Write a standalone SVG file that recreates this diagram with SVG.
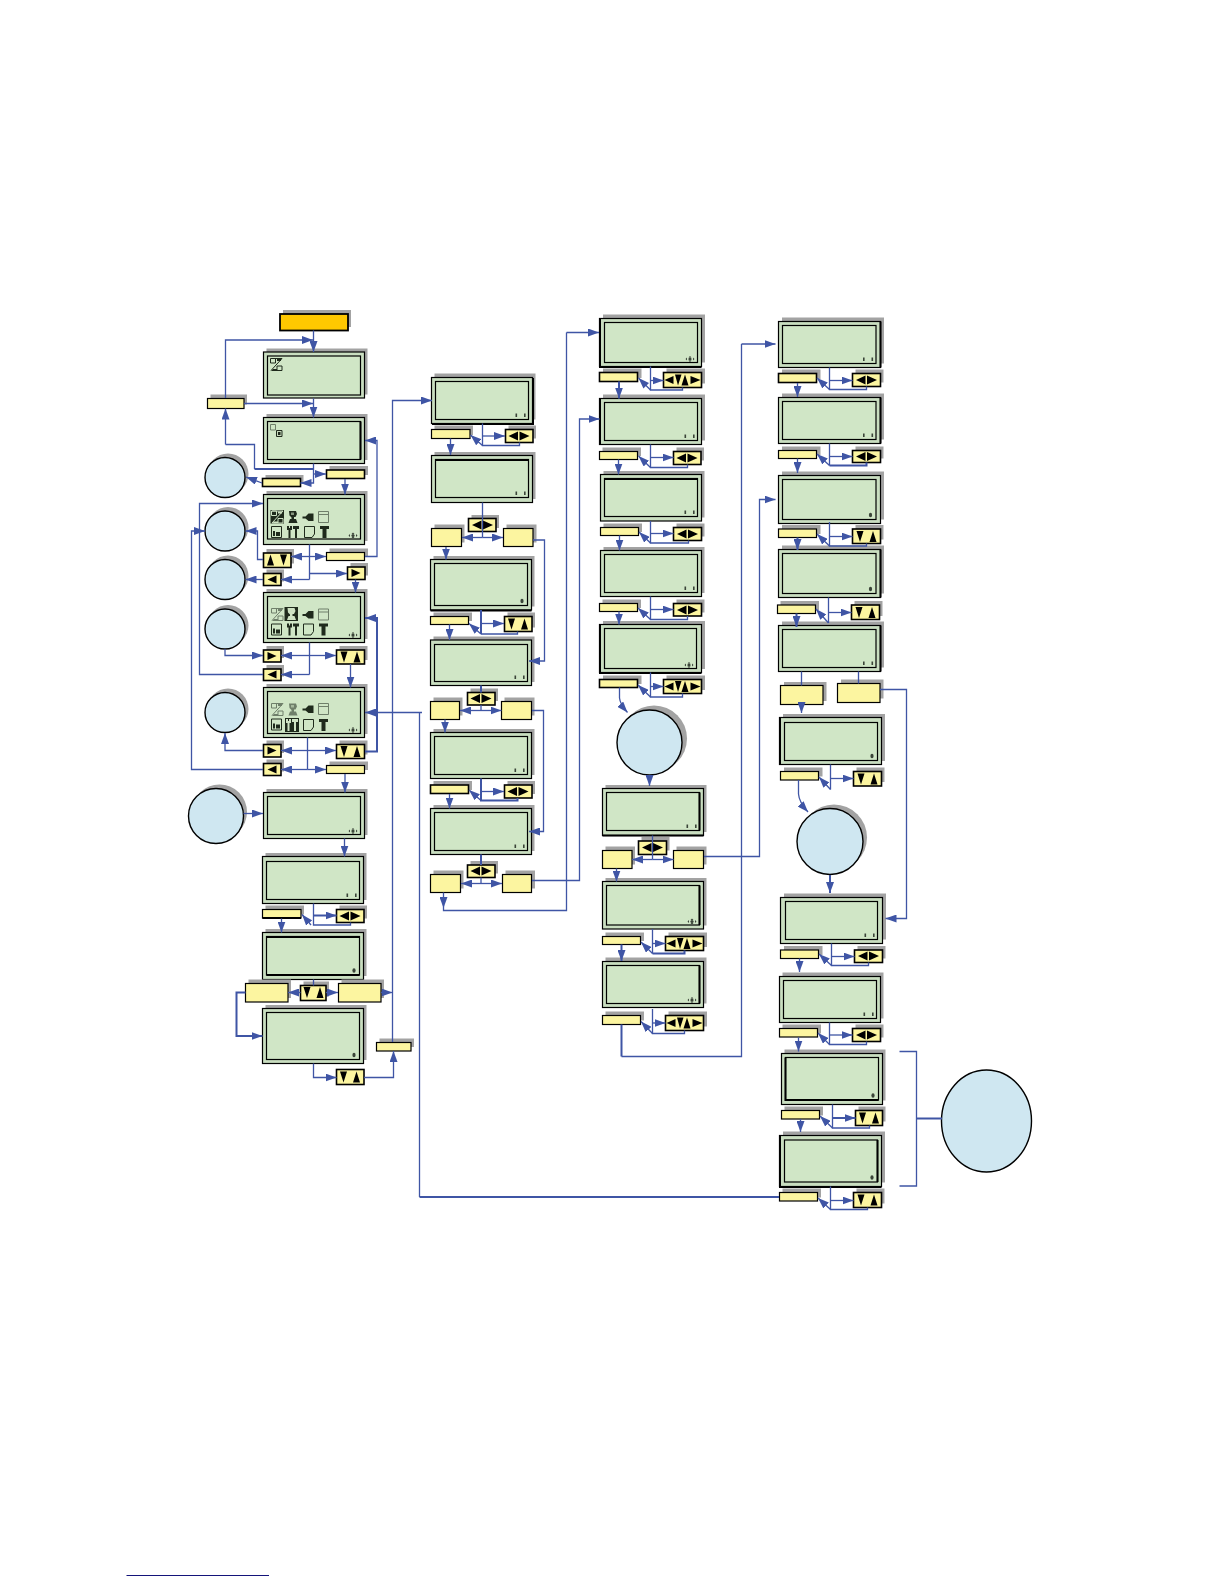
<svg xmlns="http://www.w3.org/2000/svg" width="1224" height="1584" viewBox="0 0 1224 1584">
<style>
.sh{fill:#a3a3a3}
.lcd{fill:#c9dec0;stroke:#000;stroke-width:1.2}
.scr{fill:#d0e6c6;stroke:#000;stroke-width:1.2}
.y{fill:#fcf5a0;stroke:#000;stroke-width:1.2}
.ky{fill:#fcf5a0;stroke:#000;stroke-width:1.6}
.cir{fill:#cfe7f1;stroke:#000;stroke-width:1.4}
.k{fill:none;stroke:#000;stroke-width:2}
.c{fill:none;stroke:#3f55a5;stroke-width:1.3}
.a{marker-end:url(#ah)}
.t{stroke-width:2}
.f{fill:currentColor}
.o{fill:none;stroke:currentColor;stroke-width:1}
.ic{color:#1f2a1c}
.inv{color:#cfe3c4}
.dim{color:#6f7f6a}
</style>
<defs>
<marker id="ah" viewBox="0 0 11 8" refX="11" refY="4" markerWidth="11" markerHeight="8" markerUnits="userSpaceOnUse" orient="auto"><path d="M0,0L11,4L0,8z" fill="#3f55a5"/></marker>
<g id="lr"><path d="M-10.5,0L-1,-4.5V4.5zM0.5,-4.5L10.5,0L0.5,4.5z"/></g>
<g id="ud"><path d="M-10,-5.5H-3L-6.5,5.5zM3,5.5H10L6.5,-5.5z"/></g>
<g id="du"><path d="M-10,5.5H-3L-6.5,-5.5zM3,-5.5H10L6.5,5.5z"/></g>
<g id="k4"><path d="M-18,0L-9,-4V4zM-7.5,-5.5H-1L-4.5,5.5zM-1,5.5H6L2.5,-5.5zM8,-4L18,0L8,4z"/></g>
<g id="gl"><path d="M4.5,-4V4L-4.5,0z"/></g>
<g id="gr"><path d="M-4.5,-4V4L4.5,0z"/></g>
<g id="n4" fill="#3a4438"><circle cx="-7.5" cy="-3.5" r="1.6"/><path d="M-12,-3.5L-10.5,-5V-2zM-3,-3.5L-4.5,-5V-2zM-7.5,-6.5L-9,-5H-6zM-7.5,-0.5L-9,-2H-6z"/></g>
<g id="nl" fill="#3a4438"><rect x="-13" y="-6" width="1.6" height="3.5"/><rect x="-4.5" y="-6" width="1.6" height="3.5"/></g>
<g id="nu" fill="#3a4438"><ellipse cx="-5.5" cy="-4.5" rx="1.6" ry="2.3"/></g>
<g id="i1"><path class="o" d="M.5,.5H5.5V5H.5zM7,8H12V12.5H7zM1,12.5L12,.5M1,.5H12"/><path class="f" d="M3,11H7V13H1zM7,1H11V3H7z"/></g>
<g id="i2"><path class="f" d="M2,0.5H9L10,3.500L8.500,6.500H7V8.500H9L10.500,12.500H1.500L3,8.500H4.500V7L2.500,5z"/><path fill="#c9dec0" opacity="0.6" d="M4,2H7V4.500H4z"/></g>
<g id="i3"><path class="f" d="M0,5.5H3L6,2.500H11V10H6L3,7.500H0z"/></g>
<g id="i4"><path class="o" d="M.5,.5H10.500V11.500H.5zM.5,3.500H10.500"/></g>
<g id="i5"><path class="o" d="M.5,.5H10.500V11.500H.5z"/><path class="f" d="M2,5H4V10H2zM5,6H9V10H5z"/></g>
<g id="i6"><path class="f" d="M0,0H2V2H3V0H5V4H3.500V12H1.500V4H0zM6,0H12V3H10V12H8V3H6z"/></g>
<g id="i7"><path class="o" d="M.5,.5H10.500V8L8,11.500H.5z"/></g>
<g id="i8"><path class="f" d="M0,0H9V3H6.500V12H2.500V3H0z"/></g>
</defs>

<g id="start"><rect class="sh" x="283" y="310" width="68" height="17"/><rect x="280" y="314" width="68" height="16.500" fill="#ffc800" stroke="#000" stroke-width="1.800"/></g>

<g id="lcd-1"><rect class="sh" x="266.500" y="348.500" width="101" height="46"/><rect class="lcd" x="263.500" y="352" width="101" height="46"/><rect class="scr" x="267.500" y="356" width="93" height="39"/><g class="ic" transform="translate(270,358)"><use href="#i1"/></g></g>
<g id="lcd-2"><rect class="sh" x="266.500" y="414" width="101" height="46"/><rect class="lcd" x="263.500" y="417.500" width="101" height="46"/><rect class="scr" x="267.500" y="421.500" width="93" height="38"/><path class="k" d="M360.500,421.500V459.500"/><g class="dim"><path class="o" d="M270.500,424.500H275.500V430H270.500z"/></g><path d="M276.500,430.500H282V436.500H276.500z" fill="#c6d8bb" stroke="#1f2a1c"/><rect x="278" y="432" width="2.500" height="3" fill="#1f2a1c"/></g>
<g id="lcd-3"><rect class="sh" x="266.500" y="491" width="101" height="50"/><rect class="lcd" x="263.500" y="494.500" width="101" height="50"/><rect class="scr" x="267.500" y="498.500" width="93" height="40.500"/><rect x="270.500" y="510" width="13.500" height="13.500" fill="#1f2a1c"/><g class="inv" transform="translate(271,510.500)"><use href="#i1"/></g><g class="ic" transform="translate(287,510.500)"><use href="#i2"/></g><g class="ic" transform="translate(302.500,511)"><use href="#i3"/></g><g class="dim" transform="translate(318,511)"><use href="#i4"/></g><g class="ic" transform="translate(271,526)"><use href="#i5"/></g><g class="ic" transform="translate(287,526)"><use href="#i6"/></g><g class="ic" transform="translate(304,526)"><use href="#i7"/></g><g class="ic" transform="translate(320,526)"><use href="#i8"/></g><use href="#n4" x="360.500" y="539"/></g>
<g id="lcd-4"><rect class="sh" x="266.500" y="589" width="101" height="50"/><rect class="lcd" x="263.500" y="592.500" width="101" height="50"/><rect class="scr" x="267.500" y="596.500" width="93" height="42"/><rect x="284.500" y="607" width="13.500" height="14" fill="#1f2a1c"/><g class="dim" transform="translate(271,608)"><use href="#i1"/></g><g class="inv" transform="translate(285.500,607.500)"><use href="#i2"/></g><g class="ic" transform="translate(302.500,608.500)"><use href="#i3"/></g><g class="dim" transform="translate(318,608.500)"><use href="#i4"/></g><g class="ic" transform="translate(271,623.500)"><use href="#i5"/></g><g class="ic" transform="translate(287,623.500)"><use href="#i6"/></g><g class="ic" transform="translate(303,623.500)"><use href="#i7"/></g><g class="ic" transform="translate(319,623.500)"><use href="#i8"/></g><use href="#n4" x="360.500" y="638.500"/></g>
<g id="lcd-5"><rect class="sh" x="266.500" y="684" width="101" height="50"/><rect class="lcd" x="263.500" y="687.500" width="101" height="50"/><rect class="scr" x="267.500" y="691.500" width="93" height="42"/><rect x="285" y="718" width="14" height="14" fill="#1f2a1c"/><g class="dim" transform="translate(271,703)"><use href="#i1"/></g><g class="dim" transform="translate(287,703)"><use href="#i2"/></g><g class="ic" transform="translate(302.500,703)"><use href="#i3"/></g><g class="dim" transform="translate(318,703)"><use href="#i4"/></g><g class="ic" transform="translate(271,718.500)"><use href="#i5"/></g><g class="inv" transform="translate(286,719)"><use href="#i6"/></g><g class="ic" transform="translate(303,719)"><use href="#i7"/></g><g class="ic" transform="translate(319,719)"><use href="#i8"/></g><use href="#n4" x="360.500" y="733.500"/></g>
<g id="lcd-6"><rect class="sh" x="266.500" y="789" width="101" height="46"/><rect class="lcd" x="263.500" y="792.500" width="101" height="46"/><rect class="scr" x="267.500" y="796.500" width="93" height="38"/><use href="#n4" x="360.500" y="834.500"/></g>
<g id="lcd-7"><rect class="sh" x="265.500" y="853" width="101" height="47"/><rect class="lcd" x="262.500" y="856.500" width="101" height="47"/><rect class="scr" x="266.500" y="861.500" width="93" height="38"/><use href="#nl" x="359.500" y="899.500"/></g>
<g id="lcd-8"><rect class="sh" x="265.500" y="929" width="101" height="47"/><rect class="lcd" x="262.500" y="932.500" width="101" height="47"/><rect class="scr" x="266.500" y="936.500" width="93" height="38.500"/><path class="k" d="M266.500,937H359.500M266.500,975H359.500"/><use href="#nu" x="359.500" y="975"/></g>
<g id="lcd-9"><rect class="sh" x="265.500" y="1005" width="101" height="55"/><rect class="lcd" x="262.500" y="1008.500" width="101" height="55"/><rect class="scr" x="266.500" y="1012.500" width="93" height="47"/><use href="#nu" x="359.500" y="1059.500"/></g>

<g id="box-a"><rect class="sh" x="210.500" y="394.500" width="36.500" height="10"/><rect class="y" x="207.500" y="398.500" width="36.500" height="10"/></g>
<g id="box-b"><rect class="sh" x="265.500" y="475" width="38" height="8"/><rect class="ky" x="262.500" y="478.500" width="38" height="8"/></g>
<g id="box-c"><rect class="sh" x="329.500" y="466" width="38.500" height="9"/><rect class="ky" x="326.500" y="470" width="38" height="8.500"/></g>
<g id="key-1"><rect class="sh" x="266.500" y="549" width="27.500" height="14.500"/><rect class="ky" x="263.500" y="553" width="27.500" height="14.500"/><use href="#du" x="277" y="560"/></g>
<g id="box-d"><rect class="sh" x="329.500" y="548.500" width="38.500" height="8.500"/><rect class="y" x="326.500" y="552.500" width="38" height="8"/></g>
<g id="key-2"><rect class="sh" x="266.500" y="569.500" width="17.500" height="12"/><rect class="ky" x="263.500" y="573.500" width="17.500" height="12"/><use href="#gl" x="272" y="579.500"/></g>
<g id="key-3"><rect class="sh" x="350.500" y="563" width="17.500" height="12.500"/><rect class="ky" x="347.500" y="567" width="17.500" height="12.500"/><use href="#gr" x="356" y="573"/></g>
<g id="key-4"><rect class="sh" x="266.500" y="646" width="17.500" height="12"/><rect class="ky" x="263.500" y="650" width="17.500" height="12"/><use href="#gr" x="272" y="656"/></g>
<g id="key-5"><rect class="sh" x="266.500" y="665" width="17.500" height="11.500"/><rect class="ky" x="263.500" y="669" width="17.500" height="11.500"/><use href="#gl" x="272" y="674.500"/></g>
<g id="key-6"><rect class="sh" x="339.500" y="646" width="28" height="14"/><rect class="ky" x="336.500" y="650" width="28" height="14"/><use href="#ud" x="350.500" y="657"/></g>
<g id="key-7"><rect class="sh" x="266.500" y="740.500" width="17.500" height="12.500"/><rect class="ky" x="263.500" y="744.500" width="17.500" height="12.500"/><use href="#gr" x="272" y="750.500"/></g>
<g id="key-8"><rect class="sh" x="266.500" y="759.500" width="17.500" height="12"/><rect class="ky" x="263.500" y="763.500" width="17.500" height="12"/><use href="#gl" x="272" y="769.500"/></g>
<g id="key-9"><rect class="sh" x="339.500" y="740.500" width="28" height="14"/><rect class="ky" x="336.500" y="744.500" width="28" height="14"/><use href="#ud" x="350.500" y="751.500"/></g>
<g id="box-e"><rect class="sh" x="329.500" y="761.500" width="38.500" height="8.500"/><rect class="y" x="326.500" y="765.500" width="38" height="8"/></g>
<g id="box-f"><rect class="sh" x="265.500" y="905.500" width="38.500" height="9"/><rect class="y" x="262.500" y="909.500" width="38.500" height="8.500"/><path class="k" d="M262.500,918H301"/></g>
<g id="key-10"><rect class="sh" x="339.500" y="905.500" width="27.500" height="13"/><rect class="ky" x="336.500" y="909.500" width="27.500" height="13"/><use href="#lr" x="350" y="916"/></g>
<g id="box-g1"><rect class="sh" x="248.500" y="979.500" width="42.500" height="18.500"/><rect class="y" x="245.500" y="983.500" width="42.500" height="18.500"/></g>
<g id="key-11"><rect class="sh" x="303.500" y="981.500" width="25.500" height="15"/><rect class="ky" x="300.500" y="985.500" width="25.500" height="15"/><use href="#ud" x="313.500" y="992.500"/></g>
<g id="box-g2"><rect class="sh" x="341.500" y="979.500" width="42.500" height="18.500"/><rect class="y" x="338.500" y="983.500" width="42.500" height="18.500"/></g>
<g id="key-12"><rect class="ky" x="336.500" y="1069.500" width="27.500" height="15"/><use href="#ud" x="350" y="1077"/></g>
<g id="box-h"><rect class="sh" x="379.500" y="1038.500" width="34.500" height="8.500"/><rect class="y" x="376.500" y="1042.500" width="34.500" height="8.500"/></g>

<g id="circle-1"><circle class="sh" cx="228" cy="474" r="20.500"/><circle class="cir" cx="225" cy="477.500" r="20"/></g>
<g id="circle-2"><circle class="sh" cx="228" cy="527.500" r="20.500"/><circle class="cir" cx="225" cy="531" r="20"/></g>
<g id="circle-3"><circle class="sh" cx="228" cy="576" r="20.500"/><circle class="cir" cx="225" cy="579.500" r="20"/></g>
<g id="circle-4"><circle class="sh" cx="228" cy="625.500" r="20.500"/><circle class="cir" cx="225" cy="629" r="20"/></g>
<g id="circle-5"><circle class="sh" cx="228" cy="709" r="20.500"/><circle class="cir" cx="225" cy="712.500" r="20"/></g>
<g id="circle-6"><circle class="sh" cx="219.500" cy="812" r="27.500"/><circle class="cir" cx="216" cy="816" r="27.500"/></g>

<g id="lcd-m1"><rect class="sh" x="434.500" y="373.500" width="101" height="46"/><rect class="lcd" x="431.500" y="377.500" width="101" height="46"/><rect class="scr" x="435.500" y="381.500" width="93" height="38"/><path class="k" d="M533,378V424H432"/><use href="#nl" x="528.500" y="419.500"/></g>
<g id="box-m1"><rect class="sh" x="434.500" y="425.500" width="38.500" height="9.500"/><rect class="y" x="431.500" y="429.500" width="38.500" height="9"/></g>
<g id="key-m1"><rect class="sh" x="508.500" y="425.500" width="27.500" height="13"/><rect class="ky" x="505.500" y="429.500" width="27.500" height="13"/><use href="#lr" x="519" y="436"/></g>
<g id="lcd-m2"><rect class="sh" x="434.500" y="452" width="101" height="47"/><rect class="lcd" x="431.500" y="455.500" width="101" height="47"/><rect class="scr" x="435.500" y="459.500" width="93" height="38"/><path class="k" d="M435.500,460H528.500"/><use href="#nl" x="528.500" y="497.500"/></g>
<g id="key-m2"><rect class="sh" x="471.500" y="515" width="27.500" height="13"/><rect class="ky" x="468.500" y="518.500" width="27.500" height="13"/><use href="#lr" x="482.500" y="525"/></g>
<g id="box-m2l"><rect class="sh" x="434.500" y="524.500" width="30" height="18"/><rect class="y" x="431.500" y="528.500" width="30" height="18"/></g>
<g id="box-m2r"><rect class="sh" x="506.500" y="524.500" width="30" height="18"/><rect class="y" x="503.500" y="528.500" width="29.500" height="18"/></g>
<g id="lcd-m3"><rect class="sh" x="433.500" y="556" width="101" height="50.500"/><rect class="lcd" x="430.500" y="559.500" width="101" height="50.500"/><rect class="scr" x="434.500" y="563.500" width="93" height="42"/><path class="k" d="M430.500,610.500H531.500"/><use href="#nu" x="527.500" y="605.500"/></g>
<g id="box-m3"><rect class="sh" x="433.500" y="612.500" width="38.500" height="8.500"/><rect class="y" x="430.500" y="616.500" width="38" height="8"/></g>
<g id="key-m3"><rect class="sh" x="507.500" y="612.500" width="27.500" height="15"/><rect class="ky" x="504.500" y="616.500" width="27.500" height="15"/><use href="#ud" x="518" y="624"/></g>
<g id="lcd-m4"><rect class="sh" x="433.500" y="636.500" width="101" height="45.500"/><rect class="lcd" x="430.500" y="640" width="101" height="45.500"/><rect class="scr" x="434.500" y="644.500" width="93" height="37"/><use href="#nl" x="527.500" y="681.500"/></g>
<g id="key-m4"><rect class="sh" x="470.500" y="688.500" width="27.500" height="12.500"/><rect class="ky" x="467.500" y="692.500" width="27.500" height="12.500"/><use href="#lr" x="481" y="698.500"/></g>
<g id="box-m4l"><rect class="sh" x="433.500" y="697.500" width="29" height="18"/><rect class="y" x="430.500" y="701.500" width="29" height="18"/></g>
<g id="box-m4r"><rect class="sh" x="504.500" y="697.500" width="30" height="18"/><rect class="y" x="501.500" y="701.500" width="30" height="18"/></g>
<g id="lcd-m5"><rect class="sh" x="433.500" y="729" width="101" height="46"/><rect class="lcd" x="430.500" y="732.500" width="101" height="46"/><rect class="scr" x="434.500" y="736.500" width="93" height="38"/><use href="#nl" x="527.500" y="774.500"/></g>
<g id="box-m5"><rect class="sh" x="433.500" y="781" width="38.500" height="9"/><rect class="ky" x="430.500" y="785" width="38" height="8.500"/></g>
<g id="key-m5"><rect class="sh" x="507.500" y="781" width="27.500" height="13"/><rect class="ky" x="504.500" y="785" width="27.500" height="13"/><use href="#lr" x="518" y="791.500"/></g>
<g id="lcd-m6"><rect class="sh" x="433.500" y="805" width="101" height="46"/><rect class="lcd" x="430.500" y="808.500" width="101" height="46"/><rect class="scr" x="434.500" y="812.500" width="93" height="38"/><use href="#nl" x="527.500" y="850.500"/></g>
<g id="key-m6"><rect class="sh" x="470.500" y="861" width="27.500" height="12.500"/><rect class="ky" x="467.500" y="865" width="27.500" height="12.500"/><use href="#lr" x="481" y="871"/></g>
<g id="box-m6l"><rect class="sh" x="433.500" y="870.500" width="30" height="18"/><rect class="y" x="430.500" y="874.500" width="30" height="18"/></g>
<g id="box-m6r"><rect class="sh" x="505.500" y="870.500" width="29.500" height="18"/><rect class="y" x="502.500" y="874.500" width="29" height="18"/></g>

<g id="lcd-n1"><rect class="sh" x="603" y="314.500" width="102" height="48"/><rect class="lcd" x="599.500" y="318.500" width="102" height="48"/><rect class="scr" x="604.500" y="322.500" width="93" height="40"/><path class="k" d="M600,318.500V367H701.500"/><use href="#n4" x="697.500" y="362.500"/></g>
<g id="box-n1"><rect class="sh" x="603" y="368.500" width="38.500" height="9.500"/><rect class="ky" x="599.500" y="372.500" width="38" height="9"/></g>
<g id="key-n1"><rect class="sh" x="666.500" y="368.500" width="38.500" height="15"/><rect class="ky" x="663.500" y="372.500" width="38" height="15"/><use href="#k4" x="682.500" y="380"/></g>
<g id="lcd-n2"><rect class="sh" x="603" y="394.500" width="102" height="46"/><rect class="lcd" x="599.500" y="398.500" width="102" height="46"/><rect class="scr" x="604.500" y="402.500" width="93" height="38"/><path class="k" d="M600,398.500V444.500"/><use href="#nl" x="697.500" y="440.500"/></g>
<g id="box-n2"><rect class="sh" x="602.500" y="447.500" width="38.500" height="8.500"/><rect class="y" x="599.500" y="451.500" width="38" height="8"/></g>
<g id="key-n2"><rect class="sh" x="676.500" y="447.500" width="27.500" height="13"/><rect class="ky" x="673.500" y="451.500" width="27.500" height="13"/><use href="#lr" x="687" y="458"/></g>
<g id="lcd-n3"><rect class="sh" x="603.500" y="471" width="101" height="46.500"/><rect class="lcd" x="600.500" y="474.500" width="101" height="46.500"/><rect class="scr" x="604.500" y="478.500" width="93" height="38"/><path class="k" d="M604.500,479H697.500"/><use href="#nl" x="697.500" y="516.500"/></g>
<g id="box-n3"><rect class="sh" x="603.500" y="523.500" width="38.500" height="8.500"/><rect class="y" x="600.500" y="527.500" width="38" height="8"/></g>
<g id="key-n3"><rect class="sh" x="676.500" y="523.500" width="28" height="13"/><rect class="ky" x="673.500" y="527.500" width="28" height="13"/><use href="#lr" x="687.500" y="534"/></g>
<g id="lcd-n4"><rect class="sh" x="603.500" y="547" width="101" height="46"/><rect class="lcd" x="600.500" y="550.500" width="101" height="46"/><rect class="scr" x="604.500" y="554.500" width="93" height="38"/><use href="#nl" x="697.500" y="592.500"/></g>
<g id="box-n4"><rect class="sh" x="602.500" y="599.500" width="38.500" height="8.500"/><rect class="y" x="599.500" y="603.500" width="38" height="8"/></g>
<g id="key-n4"><rect class="sh" x="676.500" y="599.500" width="28" height="13"/><rect class="ky" x="673.500" y="603.500" width="28" height="12.500"/><use href="#lr" x="687.500" y="610"/></g>
<g id="lcd-n5"><rect class="sh" x="603" y="621" width="102" height="48"/><rect class="lcd" x="599.500" y="624.500" width="102" height="48"/><rect class="scr" x="604.500" y="628.500" width="92" height="40"/><path class="k" d="M600,624.500V673H701.500"/><use href="#n4" x="696.500" y="668.500"/></g>
<g id="box-n5"><rect class="sh" x="603" y="675.500" width="38.500" height="8.500"/><rect class="ky" x="599.500" y="679.500" width="38" height="8"/></g>
<g id="key-n5"><rect class="sh" x="666.500" y="675.500" width="38.500" height="14.500"/><rect class="ky" x="663.500" y="679.500" width="38" height="14"/><use href="#k4" x="682.500" y="686.500"/></g>
<g id="circle-n"><circle class="sh" cx="654" cy="738.500" r="33"/><circle class="cir" cx="649.500" cy="742.500" r="32.500"/></g>
<g id="lcd-n6"><rect class="sh" x="605.500" y="785" width="101" height="47"/><rect class="lcd" x="602.500" y="788.500" width="101" height="47"/><rect class="scr" x="606.500" y="792.500" width="93" height="38"/><path class="k" d="M699.500,792.500V830.500M602.500,835.500H703.500"/><use href="#nl" x="699.500" y="830.500"/></g>
<g id="key-n6"><rect class="sh" x="641.500" y="837" width="28" height="13.500"/><rect class="ky" x="638.500" y="841" width="28" height="13.500"/><use href="#lr" x="652.500" y="847.500"/></g>
<g id="box-n6l"><rect class="sh" x="605.500" y="846.500" width="29.500" height="18"/><rect class="y" x="602.500" y="850.500" width="29.500" height="18"/></g>
<g id="box-n6r"><rect class="sh" x="676.500" y="846.500" width="30" height="18"/><rect class="y" x="673.500" y="850.500" width="30" height="18"/></g>
<g id="lcd-n7"><rect class="sh" x="605.500" y="878" width="101" height="47.500"/><rect class="lcd" x="602.500" y="881.500" width="101" height="47.500"/><rect class="scr" x="606.500" y="885.500" width="93" height="39.500"/><path class="k" d="M699.500,885.500V925"/><use href="#n4" x="699.500" y="925"/></g>
<g id="box-n7"><rect class="sh" x="605.500" y="932.500" width="38.500" height="8.500"/><rect class="y" x="602.500" y="936.500" width="38" height="8"/></g>
<g id="key-n7"><rect class="sh" x="668.500" y="932.500" width="38.500" height="14.500"/><rect class="ky" x="665.500" y="936.500" width="38" height="14"/><use href="#k4" x="684.500" y="943.500"/></g>
<g id="lcd-n8"><rect class="sh" x="605.500" y="957.500" width="101" height="46"/><rect class="lcd" x="602.500" y="961.500" width="101" height="46"/><rect class="scr" x="606.500" y="965.500" width="93" height="38"/><path class="k" d="M699.500,965.500V1003.500"/><use href="#n4" x="699.500" y="1003.500"/></g>
<g id="box-n8"><rect class="sh" x="605.500" y="1011.500" width="38.500" height="9"/><rect class="y" x="602.500" y="1015.500" width="38" height="9"/></g>
<g id="key-n8"><rect class="sh" x="668.500" y="1011.500" width="38.500" height="15"/><rect class="ky" x="665.500" y="1015.500" width="38" height="15"/><use href="#k4" x="684.500" y="1023"/></g>

<g id="lcd-p1"><rect class="sh" x="782" y="317.500" width="102" height="46"/><rect class="lcd" x="778.500" y="321.500" width="102" height="46"/><rect class="scr" x="782.500" y="325.500" width="93.500" height="38"/><path class="k" d="M880.500,321.500V367.500"/><use href="#nl" x="876" y="363.500"/></g>
<g id="box-p1"><rect class="sh" x="782" y="369.500" width="38.500" height="9.500"/><rect class="ky" x="778.500" y="373.500" width="38" height="9"/></g>
<g id="key-p1"><rect class="sh" x="855.500" y="369.500" width="28" height="13"/><rect class="ky" x="852.500" y="373.500" width="28" height="13"/><use href="#lr" x="866.500" y="380"/></g>
<g id="lcd-p2"><rect class="sh" x="782" y="393.500" width="102" height="46"/><rect class="lcd" x="778.500" y="397.500" width="102" height="46"/><rect class="scr" x="782.500" y="401.500" width="93.500" height="38"/><path class="k" d="M880.500,397.500V443.500"/><use href="#nl" x="876" y="439.500"/></g>
<g id="box-p2"><rect class="sh" x="782" y="446.500" width="38.500" height="8.500"/><rect class="y" x="778.500" y="450.500" width="38" height="8"/></g>
<g id="key-p2"><rect class="sh" x="855.500" y="446.500" width="28" height="12"/><rect class="ky" x="852.500" y="450.500" width="28" height="12"/><use href="#lr" x="866.500" y="456.500"/></g>
<g id="lcd-p3"><rect class="sh" x="782" y="471.500" width="102" height="48"/><rect class="lcd" x="778.500" y="475.500" width="102" height="48"/><rect class="scr" x="782.500" y="479.500" width="93.500" height="40"/><use href="#nu" x="876" y="519.500"/></g>
<g id="box-p3"><rect class="sh" x="782" y="525" width="38.500" height="9"/><rect class="y" x="778.500" y="529" width="38" height="8.500"/></g>
<g id="key-p3"><rect class="sh" x="855.500" y="525" width="28" height="14.500"/><rect class="ky" x="852.500" y="529" width="28" height="14.500"/><use href="#ud" x="866.500" y="536.500"/></g>
<g id="lcd-p4"><rect class="sh" x="782" y="545.500" width="102" height="48"/><rect class="lcd" x="778.500" y="549.500" width="102" height="48"/><rect class="scr" x="782.500" y="553.500" width="93.500" height="40"/><path class="k" d="M880.500,549.500V597.500"/><use href="#nu" x="876" y="593.500"/></g>
<g id="box-p4"><rect class="sh" x="780.500" y="601" width="38.500" height="9"/><rect class="y" x="777.500" y="605" width="38" height="8.500" stroke-width="2.200"/></g>
<g id="key-p4"><rect class="sh" x="854.500" y="601" width="28" height="15"/><rect class="ky" x="851.500" y="605" width="28" height="14.500"/><use href="#ud" x="865.500" y="612.500"/></g>
<g id="lcd-p5"><rect class="sh" x="782" y="621.500" width="102" height="46"/><rect class="lcd" x="778.500" y="625.500" width="102" height="46"/><rect class="scr" x="782.500" y="629.500" width="93.500" height="38"/><path class="k" d="M880.500,625.500V671.500"/><use href="#nl" x="876" y="667.500"/></g>
<g id="box-p5l"><rect class="sh" x="784" y="682" width="42.500" height="19"/><rect class="y" x="780.500" y="685.500" width="42.500" height="19"/></g>
<g id="box-p5r"><rect class="sh" x="841" y="679.500" width="42.500" height="19"/><rect class="y" x="837.500" y="683.500" width="42.500" height="19"/></g>
<g id="lcd-p6"><rect class="sh" x="783" y="714" width="102" height="47"/><rect class="lcd" x="779.500" y="717.500" width="102" height="47"/><rect class="scr" x="784.500" y="722.500" width="93" height="38"/><path class="k" d="M780,717.500V764.500"/><use href="#nu" x="877.500" y="760.500"/></g>
<g id="box-p6"><rect class="sh" x="784" y="767.500" width="38.500" height="9"/><rect class="y" x="780.500" y="771.500" width="38" height="8.500"/></g>
<g id="key-p6"><rect class="sh" x="856.500" y="767.500" width="28" height="14.500"/><rect class="ky" x="853.500" y="771.500" width="28" height="14.500"/><use href="#ud" x="867.500" y="779"/></g>
<g id="circle-p"><circle class="sh" cx="834" cy="837.500" r="33"/><circle class="cir" cx="830" cy="841.500" r="33"/></g>
<g id="lcd-p7"><rect class="sh" x="784" y="893.500" width="102" height="46"/><rect class="lcd" x="780.500" y="897.500" width="102" height="46"/><rect class="scr" x="785.500" y="901.500" width="92" height="38"/><use href="#nl" x="877.500" y="939.500"/></g>
<g id="box-p7"><rect class="sh" x="784" y="946" width="38.500" height="9"/><rect class="y" x="780.500" y="950" width="38" height="8.500"/></g>
<g id="key-p7"><rect class="sh" x="857.500" y="946" width="28" height="12.500"/><rect class="ky" x="854.500" y="950" width="28" height="12.500"/><use href="#lr" x="868.500" y="956"/></g>
<g id="lcd-p8"><rect class="sh" x="782.500" y="972.500" width="101" height="46"/><rect class="lcd" x="779.500" y="976.500" width="101" height="46"/><rect class="scr" x="783.500" y="980.500" width="93" height="38"/><use href="#nl" x="876.500" y="1018.500"/></g>
<g id="box-p8"><rect class="sh" x="782.500" y="1024.500" width="38.500" height="9"/><rect class="y" x="779.500" y="1028.500" width="38" height="8.500"/></g>
<g id="key-p8"><rect class="sh" x="855.500" y="1024.500" width="28" height="13"/><rect class="ky" x="852.500" y="1028.500" width="28" height="13"/><use href="#lr" x="866.500" y="1035"/></g>
<g id="lcd-p9"><rect class="sh" x="784.500" y="1049.500" width="101" height="51"/><rect class="lcd" x="781.500" y="1053.500" width="101" height="51"/><rect class="scr" x="785.500" y="1057.500" width="93" height="42.500"/><path class="k" d="M785.500,1057.500V1100H878.500"/><use href="#nu" x="878.500" y="1100"/></g>
<g id="box-p9"><rect class="sh" x="784.500" y="1106.500" width="38.500" height="9"/><rect class="y" x="781.500" y="1110.500" width="38" height="8.500"/></g>
<g id="key-p9"><rect class="sh" x="858.500" y="1106.500" width="27" height="15"/><rect class="ky" x="855.500" y="1110.500" width="27" height="15"/><use href="#ud" x="869" y="1118"/></g>
<g id="lcd-p10"><rect class="sh" x="783" y="1131.500" width="102" height="51"/><rect class="lcd" x="779.500" y="1135.500" width="102" height="51"/><rect class="scr" x="784.500" y="1140" width="93" height="42"/><path class="k" d="M780,1135.500V1187H881.500M877.500,1140V1182"/><use href="#nu" x="877.500" y="1182"/></g>
<g id="box-p10"><rect class="sh" x="782.500" y="1188.500" width="38.500" height="9"/><rect class="y" x="779.500" y="1192.500" width="38" height="8.500"/></g>
<g id="key-p10"><rect class="sh" x="856.500" y="1188.500" width="28" height="15"/><rect class="ky" x="853.500" y="1192.500" width="28" height="15"/><use href="#ud" x="867.500" y="1200"/></g>
<g id="ellipse-r"><ellipse class="cir" cx="986.500" cy="1121" rx="45" ry="51" stroke-width="1.800"/></g>

<g id="connectors">
<path class="c a" d="M313.500,330.500V352"/>
<path class="c a" d="M225.500,398V340H313"/>
<path class="c a" d="M244,403.500H313"/>
<path class="c a" d="M313.500,398.500V417.500"/>
<path class="c a" d="M225.500,444.500V408.500"/>
<path class="c" d="M225.500,444.500H254.500V469"/>
<path class="c t" d="M254.500,469H313.500"/>
<path class="c a" d="M313.500,463.500V483H300.500"/>
<path class="c a" d="M313.500,474H326"/>
<path class="c a" d="M262,483L246,477"/>
<path class="c a" d="M345,479V494.500"/>
<path class="c" d="M309.500,544.500V579.500"/>
<path class="c a" d="M309.500,556.500H291"/>
<path class="c a" d="M309.500,556.500H326"/>
<path class="c a" d="M309.500,579.500H281"/>
<path class="c a" d="M309.500,573.500H347"/>
<path class="c a" d="M263,559.500H257.500V531H245.500"/>
<path class="c a" d="M263,579.500H245.500"/>
<path class="c a" d="M355.500,579.500V592.500"/>
<path class="c a" d="M365,556.500H377V440.500H365"/>
<path class="c a" d="M263,674.500H199.500V503.500H263"/>
<path class="c a" d="M263,769.500H191.500V531H205"/>
<path class="c" d="M309.500,642.500V674.500"/>
<path class="c a" d="M309.500,655.500H281"/>
<path class="c a" d="M309.500,655.500H336"/>
<path class="c a" d="M309.500,674.500H281"/>
<path class="c a" d="M225,649V655.500H263"/>
<path class="c a" d="M350.500,664V687.500"/>
<path class="c" d="M307.500,737.500V769.500"/>
<path class="c a" d="M307.500,750.500H281"/>
<path class="c a" d="M307.500,750.500H336"/>
<path class="c a" d="M307.500,769.500H281"/>
<path class="c a" d="M307.500,769.500H326"/>
<path class="c a" d="M263,750.500H225V733"/>
<path class="c t a" d="M365,751.500H377V618H365"/>
<path class="c a" d="M422,712.500H365"/>
<path class="c a" d="M345,774V792.500"/>
<path class="c a" d="M243.500,813.500H263"/>
<path class="c a" d="M344.500,838.500V856.500"/>
<path class="c a" d="M392.500,1042V400.500H432"/>
<path class="c a" d="M381,992.500H392.500"/>
<path class="c" d="M419.500,712.500V1197"/>
<path class="c t" d="M419.500,1197H779"/>
<path class="c" d="M313.500,903.500V925H350.500V922.500"/>
<path class="c t a" d="M313.500,915.500H336.500"/>
<path class="c a" d="M311,925L302,914.500"/>
<path class="c a" d="M281.500,918.500V932.500"/>
<path class="c" d="M313.500,979.500V985.500"/>
<path class="c a" d="M300.500,992.500H288"/>
<path class="c a" d="M326,992.500H338"/>
<path class="c t a" d="M245.500,992.500H236.500V1036H262.500"/>
<path class="c a" d="M313.500,1063.500V1077.500H336.500"/>
<path class="c a" d="M364,1077.500H393.500V1051"/>

<path class="c" d="M482.500,423.500V445.500H519.500V442.500"/>
<path class="c a" d="M482.500,436H505"/>
<path class="c a" d="M482.500,445.500L470.500,435"/>
<path class="c a" d="M450.500,438.500V455"/>
<path class="c" d="M482.500,502.500V537.500"/>
<path class="c a" d="M482.500,537.500H462"/>
<path class="c a" d="M482.500,537.500H503"/>
<path class="c a" d="M533,540H544.500V661H529"/>
<path class="c a" d="M446,547V559.500"/>
<path class="c t" d="M481,610V634"/>
<path class="c a" d="M481,623.500H504"/>
<path class="c" d="M481,634H517.500V631.500"/>
<path class="c a" d="M481,634L469,623.500"/>
<path class="c a" d="M449.500,624.500V640"/>
<path class="c t" d="M481,685.500V692.500"/>
<path class="c" d="M481,705V710.500"/>
<path class="c a" d="M481,710.500H460"/>
<path class="c a" d="M481,710.500H501.500"/>
<path class="c a" d="M532,710.500H543.500V831.500H529"/>
<path class="c a" d="M445,719.500V732.500"/>
<path class="c t" d="M481,778.500V800.500H517.500V798"/>
<path class="c a" d="M481,791.500H504"/>
<path class="c a" d="M481,800.500L469,790"/>
<path class="c a" d="M449.500,794V808.500"/>
<path class="c t" d="M481,854.500V865"/>
<path class="c" d="M481,877.500V883.500"/>
<path class="c a" d="M481,883.500H461"/>
<path class="c a" d="M481,883.500H502"/>
<path class="c a" d="M443.500,892.500V908"/>
<path class="c" d="M443.500,908V910.500H566.500V332.500"/>
<path class="c a" d="M566.500,332.500H599"/>
<path class="c a" d="M532,880.500H579.500V419H599.500"/>

<path class="c" d="M650.500,366.500V390H682.500V387.500"/>
<path class="c a" d="M650.500,380.500H663.500"/>
<path class="c a" d="M650.500,390L638.500,378"/>
<path class="c t a" d="M619,381.500V398.500"/>
<path class="c" d="M650.500,444.500V467.500H687.500V464.500"/>
<path class="c a" d="M650.500,457.500H673.500"/>
<path class="c a" d="M650.500,467.500L638.500,456"/>
<path class="c a" d="M618.500,459.500V474.500"/>
<path class="c" d="M650.500,521V543H688.500V540.500"/>
<path class="c a" d="M650.500,533.500H673.500"/>
<path class="c a" d="M650.500,543L639,532"/>
<path class="c a" d="M619.500,535.500V550.500"/>
<path class="c" d="M650.500,596.500V619.500H687.500V616"/>
<path class="c a" d="M650.500,609.500H673.500"/>
<path class="c a" d="M650.500,619.500L638,608"/>
<path class="c a" d="M619,611.500V624.500"/>
<path class="c" d="M650.500,672.500V697H682.500V693.500"/>
<path class="c a" d="M650.500,686.500H663.500"/>
<path class="c a" d="M650.500,697L638,685"/>
<path class="c a" d="M619.500,687.500V698Q620,704 627.500,712.500"/>
<path class="c a" d="M649.500,775V786"/>
<path class="c" d="M652.500,835.500V859.500"/>
<path class="c a" d="M652.500,859.500H632"/>
<path class="c a" d="M652.500,859.500H673.500"/>
<path class="c a" d="M616.500,868.500V881.500"/>
<path class="c a" d="M704,856.500H759.500V499.500H775.500"/>
<path class="c" d="M652.500,929V953.500"/>
<path class="c t" d="M652.500,953.500H684.500V950.500"/>
<path class="c a" d="M652.500,943.500H665.500"/>
<path class="c a" d="M652.500,953.500L641,942"/>
<path class="c t a" d="M621.500,944.500V961"/>
<path class="c" d="M652.500,1009V1033.500H684.500V1030.500"/>
<path class="c a" d="M652.500,1023H665.500"/>
<path class="c a" d="M652.500,1033.500L641,1021.500"/>
<path class="c t" d="M621.500,1024.500V1056.500"/>
<path class="c" d="M621.500,1056.500H741.500V344"/>
<path class="c a" d="M741.500,344H775.500"/>

<path class="c" d="M829.500,367.500V389.500H866.500V386.500"/>
<path class="c a" d="M829.500,380.500H852.500"/>
<path class="c a" d="M829.500,389.500L817,378"/>
<path class="c a" d="M797.500,383V397"/>
<path class="c" d="M829.500,443.500V465.500"/>
<path class="c t" d="M829.500,465.500H866.500V462.500"/>
<path class="c a" d="M829.500,456.500H852.500"/>
<path class="c a" d="M829.500,465.500L817,454"/>
<path class="c a" d="M797.500,458.500V473"/>
<path class="c" d="M829.500,522V546H866.500V543.500"/>
<path class="c a" d="M829.500,536.500H852.500"/>
<path class="c a" d="M829.500,546L817,534"/>
<path class="c t a" d="M797.500,537.500V550"/>
<path class="c" d="M828.500,597.500V623"/>
<path class="c a" d="M828.500,612.500H851.500"/>
<path class="c a" d="M828.500,623L816,609"/>
<path class="c t a" d="M796.500,613.500V627"/>
<path class="c" d="M801.500,671.500V685.500M858.500,671.500V683.500"/>
<path class="c a" d="M801.500,704.500V713"/>
<path class="c a" d="M880,689.500H906.500V918.500H885.500"/>
<path class="c" d="M830.500,764.500V789.500"/>
<path class="c a" d="M830.500,778.500H853.500"/>
<path class="c a" d="M830.500,789.500L819,777"/>
<path class="c a" d="M798.500,780V794Q799,802 808,812"/>
<path class="c t a" d="M830,875V893"/>
<path class="c" d="M831.500,943.500V965.500H868.500V962.500"/>
<path class="c a" d="M831.500,956.500H854.500"/>
<path class="c a" d="M831.500,965.500L819,954"/>
<path class="c a" d="M799.500,958.500V972"/>
<path class="c" d="M829.500,1022.500V1044.500H866.500V1041.500"/>
<path class="c a" d="M829.500,1035H852.500"/>
<path class="c a" d="M829.500,1044.500L818,1033"/>
<path class="c a" d="M798.500,1037.500V1051.500"/>
<path class="c" d="M832.500,1104.500V1128H869.500V1125.500"/>
<path class="c t a" d="M832.500,1118H855.500"/>
<path class="c a" d="M832.500,1128L820,1116"/>
<path class="c a" d="M800.500,1119V1132"/>
<path class="c" d="M830.500,1186.500V1209.500H867.500V1207.500"/>
<path class="c a" d="M830.500,1200.500H853.500"/>
<path class="c a" d="M830.500,1209.500L818,1198"/>
<path class="c" d="M899.500,1051.500H916.500V1186H899.500"/>
<path class="c t" d="M916.500,1118.500H942"/>
</g>
<path id="footer-rule" d="M126.500,1575.500H269" fill="none" stroke="#14147a" stroke-width="1.200"/>
</svg>
